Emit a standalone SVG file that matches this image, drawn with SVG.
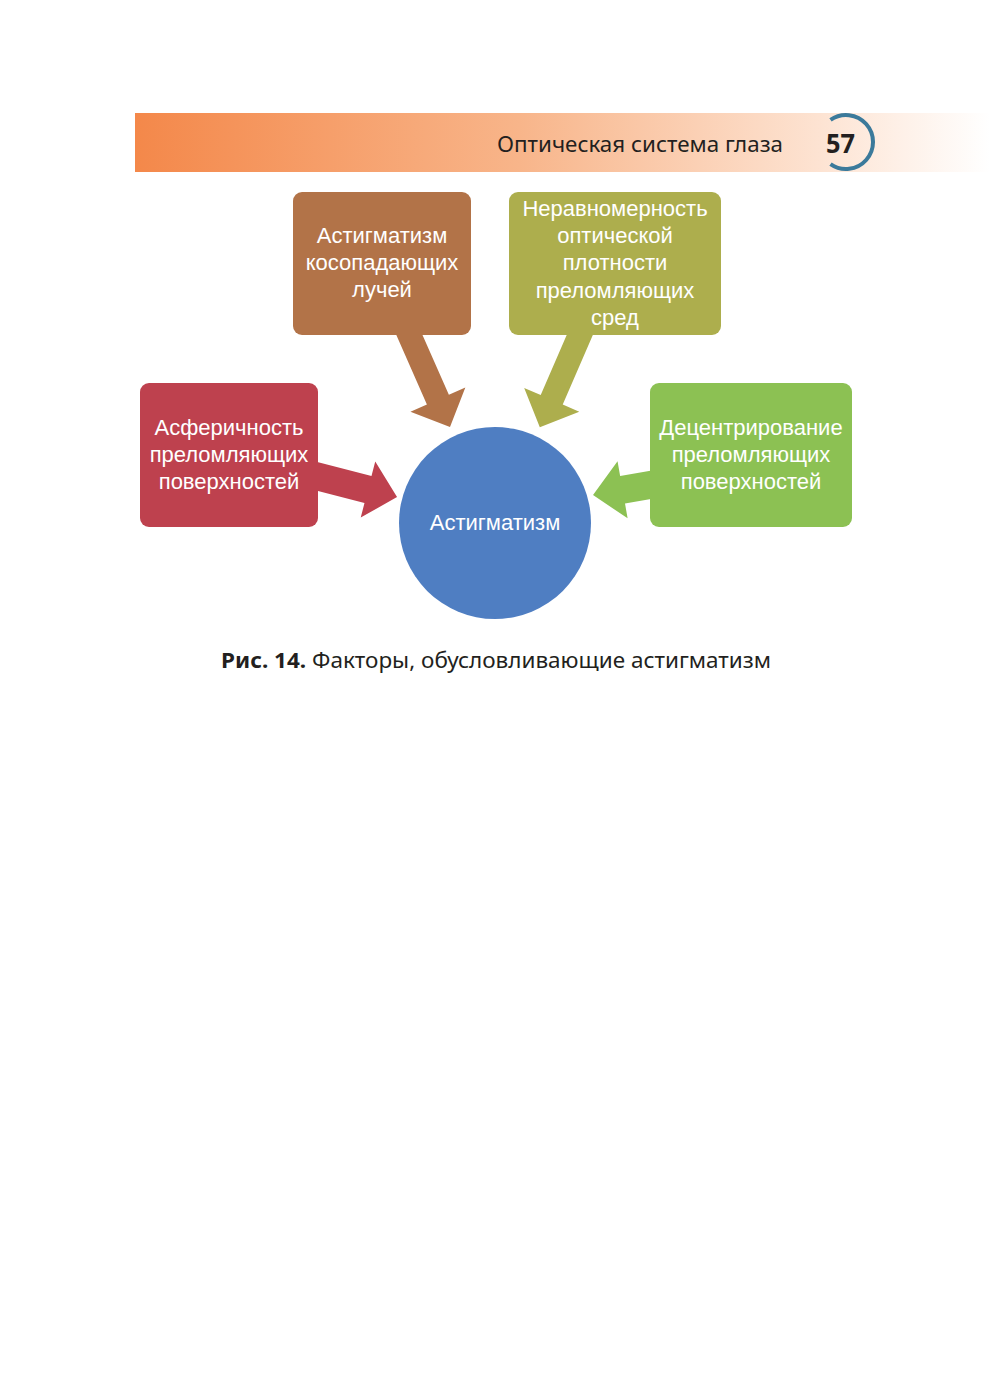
<svg xmlns="http://www.w3.org/2000/svg" width="1000" height="1399" viewBox="0 0 1000 1399">
<defs>
<linearGradient id="hdr" x1="0" y1="0" x2="1" y2="0">
<stop offset="0" stop-color="#f4884a"/>
<stop offset="0.45" stop-color="#f8b58a"/>
<stop offset="0.8" stop-color="#fde3d2"/>
<stop offset="1" stop-color="#ffffff"/>
</linearGradient>
<style>
.lbl{font-family:"Liberation Sans",Arial,sans-serif;font-size:22px;fill:#ffffff;text-anchor:middle}
.hd{font-family:"Noto Sans","Open Sans",sans-serif;fill:#231f20}
</style>
</defs>
<rect width="1000" height="1399" fill="#ffffff"/>
<g id="header">
<rect x="135" y="113" width="855" height="59" fill="url(#hdr)"/>
<text class="hd" x="497" y="152" font-size="22" textLength="286" lengthAdjust="spacingAndGlyphs">Оптическая система глаза</text>
<text class="hd" x="826" y="153" font-size="26" font-weight="bold" textLength="29" lengthAdjust="spacingAndGlyphs">57</text>
<path d="M830.5,119.9 A27,27 0 1 1 830.5,164.1" fill="none" stroke="#3b7a9b" stroke-width="4"/>
</g>
<g id="connectors">
<polygon transform="translate(309.9,474.5) rotate(14.5)" points="0,-14 60,-14 60,-29 90,0 60,29 60,14 0,14" fill="#be414e"/>
<polygon transform="translate(405,325) rotate(66.2)" points="0,-12 81.5,-12 81.5,-30 111.5,0 81.5,30 81.5,12 0,12" fill="#b27348"/>
<polygon transform="translate(584.1,325) rotate(113.4)" points="0,-12 81.5,-12 81.5,-30 111.5,0 81.5,30 81.5,12 0,12" fill="#adae4d"/>
<polygon transform="translate(660,483.2) rotate(170)" points="0,-14 38,-14 38,-29 68,0 38,29 38,14 0,14" fill="#8cc153"/>
</g>
<g id="node-brown">
<rect x="293" y="192" width="178" height="143" rx="9" fill="#b27348"/>
<text class="lbl" x="382" y="243">Астигматизм</text>
<text class="lbl" x="382" y="270">косопадающих</text>
<text class="lbl" x="382" y="297">лучей</text>
</g>
<g id="node-olive">
<rect x="509" y="192" width="212" height="143" rx="9" fill="#adae4d"/>
<text class="lbl" x="615" y="216">Неравномерность</text>
<text class="lbl" x="615" y="243">оптической</text>
<text class="lbl" x="615" y="270">плотности</text>
<text class="lbl" x="615" y="298">преломляющих</text>
<text class="lbl" x="615" y="325">сред</text>
</g>
<g id="node-red">
<rect x="140" y="383" width="178" height="144" rx="9" fill="#be414e"/>
<text class="lbl" x="229" y="435">Асферичность</text>
<text class="lbl" x="229" y="462">преломляющих</text>
<text class="lbl" x="229" y="489">поверхностей</text>
</g>
<g id="node-green">
<rect x="650" y="383" width="202" height="144" rx="9" fill="#8cc153"/>
<text class="lbl" x="751" y="435">Децентрирование</text>
<text class="lbl" x="751" y="462">преломляющих</text>
<text class="lbl" x="751" y="489">поверхностей</text>
</g>
<g id="node-center">
<circle cx="495" cy="523" r="96" fill="#4f7ec2"/>
<text class="lbl" x="495" y="530">Астигматизм</text>
</g>
<g id="caption">
<text class="hd" x="221" y="668" font-size="22" textLength="550" lengthAdjust="spacingAndGlyphs"><tspan font-weight="bold">Рис. 14.</tspan> Факторы, обусловливающие астигматизм</text>
</g>
</svg>
